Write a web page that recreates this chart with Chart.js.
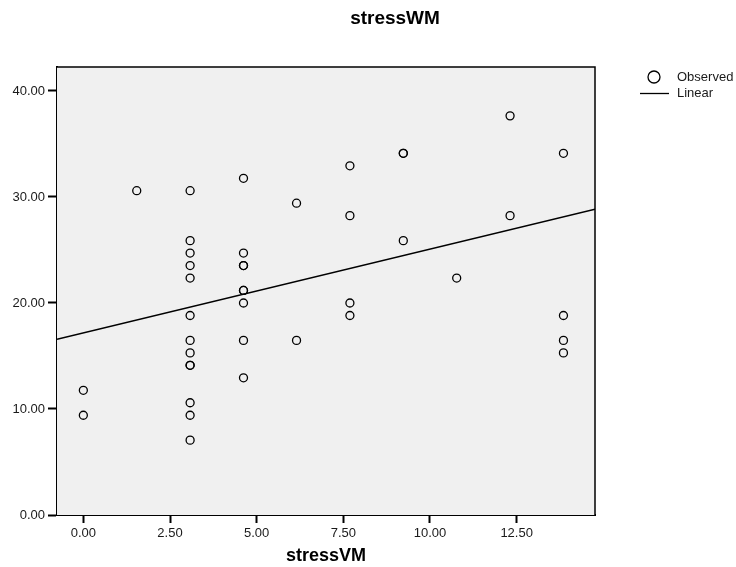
<!DOCTYPE html>
<html>
<head>
<meta charset="utf-8">
<title>stressWM</title>
<script src="https://cdn.jsdelivr.net/npm/chart.js@4.4.1/dist/chart.umd.min.js"></script>
<style>
  html, body { margin: 0; padding: 0; background: #fff; }
  #wrap { width: 736px; height: 567px; }
</style>
</head>
<body>
<div id="wrap"><canvas id="fit-chart" width="736" height="567"></canvas></div>
<script>
// Observed points (stressVM, stressWM)
const obsX = [
  0, 0,
  1.54,
  3.08, 3.08, 3.08, 3.08, 3.08, 3.08, 3.08, 3.08, 3.08, 3.08, 3.08, 3.08, 3.08,
  4.62, 4.62, 4.62, 4.62, 4.62, 4.62, 4.62, 4.62, 4.62,
  6.15, 6.15,
  7.69, 7.69, 7.69, 7.69,
  9.23, 9.23, 9.23,
  10.77,
  12.31, 12.31,
  13.85, 13.85, 13.85, 13.85
];
const obsY = [
  11.76, 9.41,
  30.59,
  30.59, 25.88, 24.71, 23.53, 22.35, 18.82, 16.47, 15.29, 14.12, 14.12, 10.59, 9.41, 7.06,
  31.76, 24.71, 23.53, 23.53, 21.18, 21.18, 20.00, 16.47, 12.94,
  29.41, 16.47,
  32.94, 28.24, 20.00, 18.82,
  34.12, 34.12, 25.88,
  22.35,
  37.65, 28.24,
  34.12, 18.82, 16.47, 15.29
];

// Linear fit, ends at the axis limits
const fitX = [-0.76, 14.76];
const fitY = [16.58, 28.84];

const xTicks = [0, 2.5, 5, 7.5, 10, 12.5];
const yTicks = [0, 10, 20, 30, 40];

const titleText = 'stressWM';
const xTitle = 'stressVM';
const legendLabels = ['Observed', 'Linear'];

const FONT = '"Liberation Sans", Arial, Helvetica, sans-serif';

// plot background, frame, title and legend
const decor = {
  id: 'decor',
  beforeDatasetsDraw(chart) {
    const { ctx, chartArea: a } = chart;
    ctx.save();
    ctx.fillStyle = '#f0f0f0';
    ctx.fillRect(a.left, a.top, a.right - a.left, a.bottom - a.top);
    ctx.restore();
  },
  afterDraw(chart) {
    const { ctx, chartArea: a } = chart;
    ctx.save();
    ctx.strokeStyle = '#000';
    ctx.lineWidth = 1.5;
    ctx.beginPath();
    ctx.moveTo(a.left, a.top);
    ctx.lineTo(a.right, a.top);
    ctx.lineTo(a.right, a.bottom);
    ctx.stroke();

    ctx.fillStyle = '#000';
    ctx.font = 'bold 19px ' + FONT;
    ctx.textAlign = 'center';
    ctx.textBaseline = 'alphabetic';
    ctx.fillText(titleText, 395, 23.5);

    // legend
    ctx.lineWidth = 1.3;
    ctx.beginPath();
    ctx.arc(654, 77, 6, 0, Math.PI * 2);
    ctx.stroke();
    ctx.beginPath();
    ctx.moveTo(640, 93.5);
    ctx.lineTo(669, 93.5);
    ctx.stroke();
    ctx.font = '13px ' + FONT;
    ctx.textAlign = 'left';
    ctx.textBaseline = 'middle';
    ctx.fillStyle = '#1a1a1a';
    ctx.fillText(legendLabels[0], 677, 77);
    ctx.fillText(legendLabels[1], 677, 93.5);
    ctx.restore();
  }
};

const ctx = document.getElementById('fit-chart').getContext('2d');
new Chart(ctx, {
  type: 'scatter',
  data: {
    datasets: [
      {
        label: legendLabels[0],
        data: obsX.map((x, i) => ({ x, y: obsY[i] })),
        pointStyle: 'circle',
        pointRadius: 4,
        pointBackgroundColor: 'rgba(0,0,0,0)',
        pointBorderColor: '#000',
        pointBorderWidth: 1.3,
        order: 1
      },
      {
        label: legendLabels[1],
        type: 'line',
        data: fitX.map((x, i) => ({ x, y: fitY[i] })),
        borderColor: '#000',
        borderWidth: 1.5,
        pointRadius: 0,
        fill: false,
        order: 2
      }
    ]
  },
  options: {
    responsive: false,
    animation: false,
    layout: { padding: { top: 67, right: 141, left: 0, bottom: 0 } },
    plugins: {
      legend: { display: false },
      title: { display: false },
      tooltip: { enabled: false }
    },
    scales: {
      x: {
        type: 'linear',
        min: -0.76,
        max: 14.76,
        afterBuildTicks: s => { s.ticks = xTicks.map(v => ({ value: v })); },
        afterFit: s => { s.height = 52; },
        grid: { drawOnChartArea: false, tickLength: 8, tickColor: '#000', tickWidth: 2 },
        border: { display: true, color: '#000', width: 2 },
        ticks: {
          color: '#1a1a1a',
          padding: 3,
          maxRotation: 0,
          font: { family: FONT, size: 13 },
          callback: v => v.toFixed(2)
        },
        title: {
          display: true,
          text: xTitle,
          color: '#000',
          padding: { top: 0, bottom: 0 },
          font: { family: FONT, size: 18, weight: 'bold', lineHeight: 1.2 }
        }
      },
      y: {
        type: 'linear',
        min: 0,
        max: 42.26,
        afterBuildTicks: s => { s.ticks = yTicks.map(v => ({ value: v })); },
        afterFit: s => { s.width = 57; },
        grid: { drawOnChartArea: false, tickLength: 9, tickColor: '#000', tickWidth: 2 },
        border: { display: true, color: '#000', width: 2 },
        ticks: {
          color: '#1a1a1a',
          padding: 3,
          font: { family: FONT, size: 13 },
          callback: v => v.toFixed(2)
        }
      }
    }
  },
  plugins: [decor]
});
</script>
</body>
</html>
